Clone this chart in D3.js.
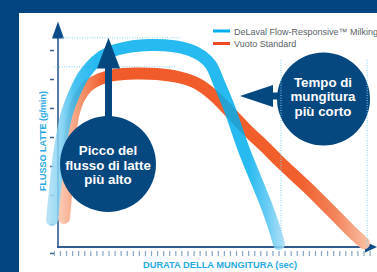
<!DOCTYPE html>
<html><head><meta charset="utf-8">
<script src="https://cdn.jsdelivr.net/npm/d3@7"></script>
<style>html,body{margin:0;padding:0;background:#00457f;overflow:hidden}</style>
</head><body><svg id="c" width="377" height="272"></svg>
<script>
// ---- data ----
const seriesNames = ["DeLaval Flow-Responsive™ Milking", "Vuoto Standard"];
const blueTime = [6.9, 11.9, 16.8, 23.4, 31.6, 43.2, 59.6, 79.4, 102.5, 132.1, 168.3, 204.6, 234.2, 254.0, 268.8, 282.0, 298.4, 310.0, 323.2, 339.7, 357.8, 374.2, 380.8];
const blueFlow = [1.14, 2.17, 3.14, 4.03, 4.83, 5.48, 6.14, 6.62, 6.93, 7.10, 7.17, 7.14, 7.00, 6.79, 6.48, 5.86, 5.03, 4.34, 3.55, 2.69, 1.76, 0.79, 0.31];
const redTime = [26.7, 30.0, 33.3, 36.6, 41.5, 51.4, 66.2, 86.0, 110.7, 143.7, 179.9, 217.8, 247.4, 272.1, 300.1, 328.1, 356.1, 382.5, 410.5, 436.9, 461.6, 481.3, 501.1, 520.8];
const redFlow = [1.21, 2.00, 3.03, 3.97, 4.72, 5.34, 5.76, 6.00, 6.14, 6.19, 6.17, 6.05, 5.83, 5.45, 4.86, 4.24, 3.69, 3.14, 2.59, 2.07, 1.55, 1.14, 0.72, 0.34];
const yTickValues = [0, 1, 2, 3, 4, 5, 6, 7];
const xTickValues = [10,20,30,40,50,60,70,80,90,100,110,120,130,140,150,160,170,180,190,200,210,220,230,240,250,260,270,280,290,300,310,320,330,340,350,360,370,380,390,400,410,420,430,440,450,460,470,480,490,500,510,520,530];
const peakRefs = [7.42, 6.42];          // dotted peak lines (flow)
const peakRefEnds = [218, 210];          // time where dotted lines end
const endRefs = [384, 526];              // dotted end-of-milking lines (time)
const yLabel = "FLUSSO LATTE (g/min)";
const xLabel = "DURATA DELLA MUNGITURA (sec)";
const calloutPeak = ["Picco del", "flusso di latte", "più alto"];
const calloutTime = ["Tempo di", "mungitura", "più corto"];

// ---- setup ----
const svg = d3.select("#c");
const navy = "#00457f", circ = "#05477f", lblBlue = "#27aae1";
const font = "'Liberation Sans', Arial, Helvetica, sans-serif";
const x = d3.scaleLinear().domain([0, 530]).range([47.8, 369.6]);
const y = d3.scaleLinear().domain([0, 8]).range([253, 21]);

svg.append("rect").attr("width", 377).attr("height", 272).attr("fill", navy);
svg.append("rect").attr("x", 19).attr("y", 13).attr("width", 358).attr("height", 259).attr("fill", "#fff");

const defs = svg.append("defs");
function grad(id, x1, x2, stops) {
  const g = defs.append("linearGradient").attr("id", id).attr("gradientUnits", "userSpaceOnUse")
    .attr("x1", x1).attr("x2", x2).attr("y1", 0).attr("y2", 0);
  stops.forEach(s => g.append("stop").attr("offset", s[0]).attr("stop-color", s[1]));
}
grad("gBlue", 46, 284, [[0, "#b3e0f4"], [0.06, "#80d0f2"], [0.12, "#2ab7ef"], [0.21, "#00aeef"], [0.85, "#00aeef"], [0.93, "#4fc3f2"], [1, "#a5dbf5"]]);
grad("gRed", 60, 370, [[0, "#fbcab4"], [0.03, "#f8b396"], [0.08, "#f58b63"], [0.145, "#f15a29"], [0.77, "#f15f2c"], [0.89, "#f4845c"], [1, "#fbc4a9"]]);

// ---- axes ----
// y ticks
const yAx = svg.append("g").attr("transform", "translate(54,0)")
  .call(d3.axisLeft(y).tickValues(yTickValues).tickSize(4).tickFormat(""));
yAx.select(".domain").remove();
yAx.selectAll("line").attr("stroke", "#3a5f8a").attr("stroke-width", 1.5);
// x ticks
const xAx = svg.append("g").attr("transform", "translate(0,251)")
  .call(d3.axisBottom(x).tickValues(xTickValues).tickSize(5).tickFormat(""));
xAx.select(".domain").remove();
xAx.selectAll("line").attr("stroke", "#86a5c8").attr("stroke-width", 1.2);

// axis lines + arrows
svg.append("line").attr("x1", 58).attr("x2", 58).attr("y1", 248).attr("y2", 36)
  .attr("stroke", "#557aa3").attr("stroke-width", 2);
svg.append("path").attr("d", "M58,21.5 L64,38.5 L52,38.5 Z").attr("fill", "#0c4c88");
svg.append("line").attr("x1", 57).attr("x2", 367).attr("y1", 247).attr("y2", 247)
  .attr("stroke", "#2f5d91").attr("stroke-width", 1.8);
svg.append("path").attr("d", "M377,247 L365,241.5 L365,252.5 Z").attr("fill", "#0c4c88");

// dotted peak lines
peakRefs.forEach((v, i) => {
  svg.append("line").attr("x1", i === 0 ? 62 : 54).attr("x2", x(peakRefEnds[i]))
    .attr("y1", y(v)).attr("y2", y(v))
    .attr("stroke", "#7fd3f3").attr("stroke-width", 1).attr("stroke-dasharray", "1,1.5");
});

// ---- curves ----
const line = d3.line().x(d => x(d[0])).y(d => y(d[1])).curve(d3.curveCatmullRom.alpha(0.5));
const redData = redTime.map((t, i) => [t, redFlow[i]]);
const blueData = blueTime.map((t, i) => [t, blueFlow[i]]);
svg.append("path").attr("d", line(redData)).attr("fill", "none").attr("stroke", "url(#gRed)")
  .attr("stroke-width", 12).attr("stroke-linecap", "round").attr("stroke-linejoin", "round");
svg.append("path").attr("d", line(blueData)).attr("fill", "none").attr("stroke", "url(#gBlue)")
  .attr("stroke-width", 12).attr("stroke-linecap", "round").attr("stroke-linejoin", "round")
  .attr("opacity", 0.85);

// ---- callouts ----
// left: peak
svg.append("rect").attr("x", 105).attr("y", 66).attr("width", 7).attr("height", 70).attr("fill", circ);
svg.append("path").attr("d", `M108.5,${y(peakRefs[0])} L120,68.5 L97,68.5 Z`).attr("fill", circ);
svg.append("circle").attr("cx", 108).attr("cy", 164).attr("r", 48).attr("fill", circ);
calloutPeak.forEach((s, i) => svg.append("text").attr("x", 108).attr("y", 155 + i * 14.5)
  .attr("text-anchor", "middle").attr("fill", "#fff").attr("font-family", font)
  .attr("font-weight", "bold").attr("font-size", 13.3).text(s));

// right: shorter time
svg.append("rect").attr("x", 270).attr("y", 92.5).attr("width", 14).attr("height", 7).attr("fill", circ);
svg.append("path").attr("d", "M240,96 L273,85 L273,107 Z").attr("fill", circ);
svg.append("circle").attr("cx", 323.5).attr("cy", 99).attr("r", 46.5).attr("fill", circ);
calloutTime.forEach((s, i) => svg.append("text").attr("x", 323).attr("y", 87 + i * 14.3)
  .attr("text-anchor", "middle").attr("fill", "#fff").attr("font-family", font)
  .attr("font-weight", "bold").attr("font-size", 13.3).text(s));

// dotted end lines (over circle)
endRefs.forEach(t => {
  svg.append("line").attr("x1", x(t)).attr("x2", x(t)).attr("y1", 60).attr("y2", 246)
    .attr("stroke", "#7fd3f3").attr("stroke-width", 1).attr("stroke-dasharray", "1,1.5");
});

// ---- legend ----
const legColors = ["#00aeef", "#ef4a25"];
seriesNames.forEach((n, i) => {
  const ly = 31 + i * 12.5;
  svg.append("line").attr("x1", 213).attr("x2", 230).attr("y1", ly).attr("y2", ly)
    .attr("stroke", legColors[i]).attr("stroke-width", 3);
  svg.append("text").attr("x", 234).attr("y", ly + 3.5).attr("fill", "#5a5f66")
    .attr("font-family", font).attr("font-size", 9).text(n);
});

// ---- axis labels ----
svg.append("text").attr("transform", "translate(45.5,141) rotate(-90)").attr("text-anchor", "middle")
  .attr("fill", lblBlue).attr("font-family", font).attr("font-weight", "bold").attr("font-size", 9).text(yLabel);
svg.append("text").attr("x", 220).attr("y", 268).attr("text-anchor", "middle")
  .attr("fill", lblBlue).attr("font-family", font).attr("font-weight", "bold").attr("font-size", 9.3).text(xLabel);
</script></body></html>
